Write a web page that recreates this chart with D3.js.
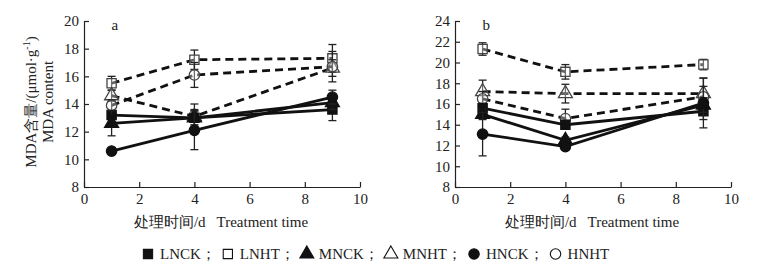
<!DOCTYPE html>
<html>
<head>
<meta charset="utf-8">
<script src="https://cdn.jsdelivr.net/npm/d3@7"></script>
<style>
  body { margin: 0; background: #fff; }
</style>
</head>
<body>
<svg id="chart" width="772" height="271"></svg>
<script>
// sampling days
const days = [1, 4, 9];
const seriesNames = ['LNCK', 'LNHT', 'MNCK', 'MNHT', 'HNCK', 'HNHT'];
const xTicks = [0, 2, 4, 6, 8, 10];
const yTicksA = [8, 10, 12, 14, 16, 18, 20];
const yTicksB = [8, 10, 12, 14, 16, 18, 20, 22, 24];

// panel a: mean MDA content and error
const meanA = {
  LNCK: [13.2, 13.0, 13.6],
  LNHT: [15.5, 17.2, 17.3],
  MNCK: [12.6, 13.0, 14.1],
  MNHT: [14.6, 13.1, 16.6],
  HNCK: [10.6, 12.1, 14.5],
  HNHT: [13.9, 16.1, 16.7]
};
const errA = {
  LNCK: [0.3, 0.5, 0.8],
  LNHT: [0.5, 0.7, 1.0],
  MNCK: [0.9, 0.6, 0.5],
  MNHT: [0.4, 0.9, 0.6],
  HNCK: [0.2, 1.4, 0.5],
  HNHT: [0.4, 0.9, 1.1]
};

// panel b
const meanB = {
  LNCK: [15.6, 14.0, 15.3],
  LNHT: [21.3, 19.1, 19.8],
  MNCK: [15.0, 12.5, 15.9],
  MNHT: [17.2, 17.0, 17.0],
  HNCK: [13.1, 11.9, 16.1],
  HNHT: [16.5, 14.6, 16.7]
};
const errB = {
  LNCK: [0.4, 0.4, 0.8],
  LNHT: [0.6, 0.7, 0.5],
  MNCK: [0.5, 0.3, 0.7],
  MNHT: [1.1, 0.9, 1.5],
  HNCK: [2.1, 0.3, 2.4],
  HNHT: [0.7, 0.9, 1.0]
};

// marker style per series
const style = {
  LNCK: { shape: d3.symbolSquare, filled: true, dashed: false },
  LNHT: { shape: d3.symbolSquare, filled: false, dashed: true },
  MNCK: { shape: d3.symbolTriangle, filled: true, dashed: false },
  MNHT: { shape: d3.symbolTriangle, filled: false, dashed: true },
  HNCK: { shape: d3.symbolCircle, filled: true, dashed: false },
  HNHT: { shape: d3.symbolCircle, filled: false, dashed: true }
};
const symSize = { [d3.symbolSquare]: 100, [d3.symbolTriangle]: 70, [d3.symbolCircle]: 85 };
const FONT = 'Liberation Serif, Times New Roman, serif';

const svg = d3.select('#chart');

function drawPanel(cfg) {
  const { left, right, top, bottom, yDomain, yTicks, means, errs, label } = cfg;
  const x = d3.scaleLinear().domain([0, 10]).range([left, right]);
  const y = d3.scaleLinear().domain(yDomain).range([bottom, top]);
  const g = svg.append('g');

  // axes, ticks pointing inward
  g.append('g')
    .attr('transform', `translate(0,${bottom})`)
    .call(d3.axisBottom(x).tickValues(xTicks).tickSize(-5).tickSizeOuter(0).tickPadding(6))
    .call(a => a.attr('font-size', 15))
    .call(a => a.selectAll('line,path').attr('stroke', '#222').attr('stroke-width', 1.2));
  g.append('g')
    .attr('transform', `translate(${left},0)`)
    .call(d3.axisLeft(y).tickValues(yTicks).tickSize(-5).tickSizeOuter(0).tickPadding(5))
    .call(a => a.attr('font-size', 15))
    .call(a => a.selectAll('line,path').attr('stroke', '#222').attr('stroke-width', 1.2));

  // dashed series first, solid on top
  const order = ['LNHT', 'MNHT', 'HNHT', 'LNCK', 'MNCK', 'HNCK'];
  const line = d3.line().x(d => x(d.day)).y(d => y(d.v));

  order.forEach(name => {
    const pts = days.map((day, i) => ({ day, v: means[name][i], e: errs[name][i] }));
    const st = style[name];
    const sg = g.append('g');

    sg.append('path')
      .datum(pts)
      .attr('d', line)
      .attr('fill', 'none')
      .attr('stroke', '#111')
      .attr('stroke-width', 2.8)
      .attr('stroke-dasharray', st.dashed ? '8,5' : null);

    // error bars
    const eb = sg.selectAll('.eb').data(pts).enter().append('g')
      .attr('stroke', '#222').attr('stroke-width', 1.3);
    eb.append('line')
      .attr('x1', d => x(d.day)).attr('x2', d => x(d.day))
      .attr('y1', d => y(d.v - d.e)).attr('y2', d => y(d.v + d.e));
    eb.append('line')
      .attr('x1', d => x(d.day) - 4).attr('x2', d => x(d.day) + 4)
      .attr('y1', d => y(d.v - d.e)).attr('y2', d => y(d.v - d.e));
    eb.append('line')
      .attr('x1', d => x(d.day) - 4).attr('x2', d => x(d.day) + 4)
      .attr('y1', d => y(d.v + d.e)).attr('y2', d => y(d.v + d.e));

    sg.selectAll('.mk').data(pts).enter().append('path')
      .attr('d', d3.symbol().type(st.shape).size(symSize[st.shape]))
      .attr('transform', d => `translate(${x(d.day)},${y(d.v)})`)
      .attr('fill', st.filled ? '#111' : '#fff')
      .attr('fill-opacity', st.filled ? 1 : 0.35)
      .attr('stroke', st.filled ? '#111' : '#444')
      .attr('stroke-width', 1.3);
  });

  // panel letter
  g.append('text')
    .attr('x', x(1)).attr('y', top + 9)
    .attr('font-size', 15)
    .text(label);

  // x title
  g.append('text')
    .attr('x', (left + right) / 2 - 1).attr('y', 227)
    .attr('text-anchor', 'middle')
    .attr('font-size', 15)
    .attr('xml:space', 'preserve')
    .text('处理时间/d   Treatment time');
}

drawPanel({ left: 84, right: 360, top: 21, bottom: 187, yDomain: [8, 20], yTicks: yTicksA,
  means: meanA, errs: errA, label: 'a' });
drawPanel({ left: 455, right: 731, top: 21, bottom: 187, yDomain: [8, 24], yTicks: yTicksB,
  means: meanB, errs: errB, label: 'b' });

// y title (two lines)
const yt = svg.append('text')
  .attr('transform', 'translate(0,102) rotate(-90)')
  .attr('text-anchor', 'middle')
  .attr('font-size', 15);
yt.append('tspan').attr('x', 0).attr('y', 36).text('MDA含量/(μmol·g');
yt.append('tspan').attr('dy', -6).attr('font-size', 10).text('-1');
yt.append('tspan').attr('dy', 6).text(')');
yt.append('tspan').attr('x', 0).attr('y', 53).text('MDA content');

// legend
const legend = svg.append('g').attr('transform', 'translate(148,254)');
let lx = 0;
seriesNames.forEach((name, i) => {
  const st = style[name];
  legend.append('path')
    .attr('d', d3.symbol().type(st.shape).size(symSize[st.shape]))
    .attr('transform', `translate(${lx},0)`)
    .attr('fill', st.filled ? '#111' : '#fff')
    .attr('stroke', '#111')
    .attr('stroke-width', 1.1);
  const t = legend.append('text')
    .attr('x', lx + 12).attr('y', 5)
    .attr('font-size', 15)
    .attr('font-family', FONT)
    .text(name + (i < seriesNames.length - 1 ? '；' : ''));
  lx += 12 + t.node().getComputedTextLength() + 12;
});

// serif everywhere, set on each text element
svg.selectAll('text').attr('font-family', FONT).attr('fill', '#222');
</script>
</body>
</html>
